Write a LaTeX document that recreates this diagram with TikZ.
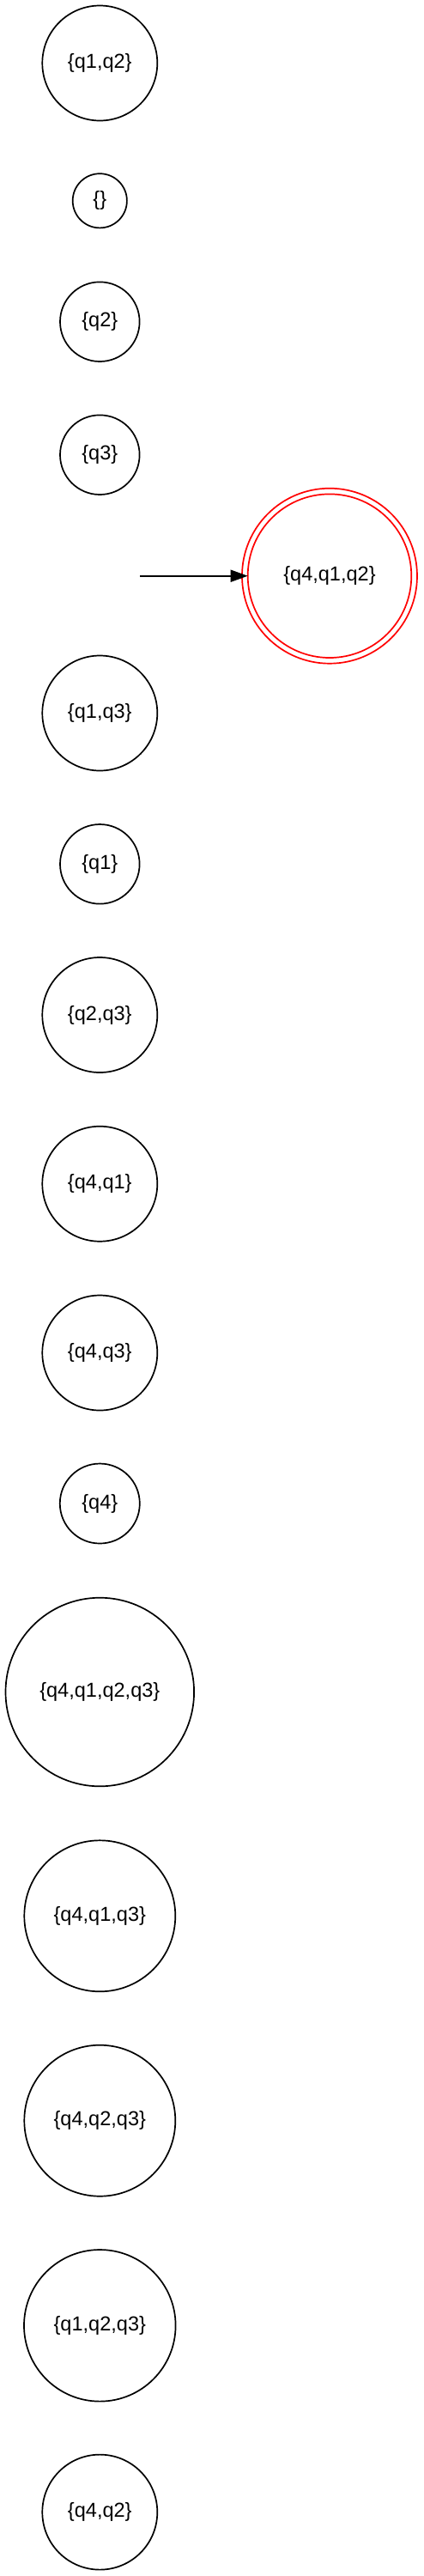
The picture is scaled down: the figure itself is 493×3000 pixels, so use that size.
\documentclass[tikz,border=0pt]{standalone}
\usepackage{fontspec}
\setmainfont{Liberation Sans}
\usetikzlibrary{arrows.meta}
\begin{document}
\begin{tikzpicture}[x=0.5pt,y=-0.5pt,
  state/.style={circle,draw=black,line width=0.85pt,inner sep=0pt,outer sep=0pt,
    font=\fontsize{11.77}{14}\selectfont},
  accstate/.style={state,draw=red},
  startarrow/.style={line width=0.85pt,-{Triangle[length=10pt,width=7pt]}}]
\useasboundingbox (0,0) rectangle (493,3000);
\node[state,minimum size=67pt] (q12) at (116.3,73.5) {\{q1,q2\}};
\node[state,minimum size=31.6pt] (empty) at (116.3,233.8) {\{\}};
\node[state,minimum size=46.3pt] (q2) at (116.3,374.7) {\{q2\}};
\node[state,minimum size=46.3pt] (q3) at (116.3,529.7) {\{q3\}};
\node[accstate,minimum size=95.3pt] (q412) at (384,670.7) {\{q4,q1,q2\}};
\draw[red,line width=0.85pt] (q412.center) circle[radius=51pt];
\coordinate (init) at (163.3,670.7);
\draw[startarrow] (init) -- (q412);
\node[state,minimum size=67pt] (q13) at (116.3,830.5) {\{q1,q3\}};
\node[state,minimum size=46.3pt] (q1) at (116.3,1006.3) {\{q1\}};
\node[state,minimum size=67pt] (q23) at (116.3,1182) {\{q2,q3\}};
\node[state,minimum size=67pt] (q41) at (116.3,1378.7) {\{q4,q1\}};
\node[state,minimum size=67pt] (q43) at (116.3,1575.5) {\{q4,q3\}};
\node[state,minimum size=46.5pt] (q4) at (116.3,1751) {\{q4\}};
\node[state,minimum size=109.8pt] (q4123) at (116.3,1970.5) {\{q4,q1,q2,q3\}};
\node[state,minimum size=88pt] (q413) at (116.3,2231.3) {\{q4,q1,q3\}};
\node[state,minimum size=88pt] (q423) at (116.3,2469.7) {\{q4,q2,q3\}};
\node[state,minimum size=88.3pt] (q123) at (116.3,2708.3) {\{q1,q2,q3\}};
\node[state,minimum size=67pt] (q42) at (116.3,2925.6) {\{q4,q2\}};
\end{tikzpicture}
\end{document}
